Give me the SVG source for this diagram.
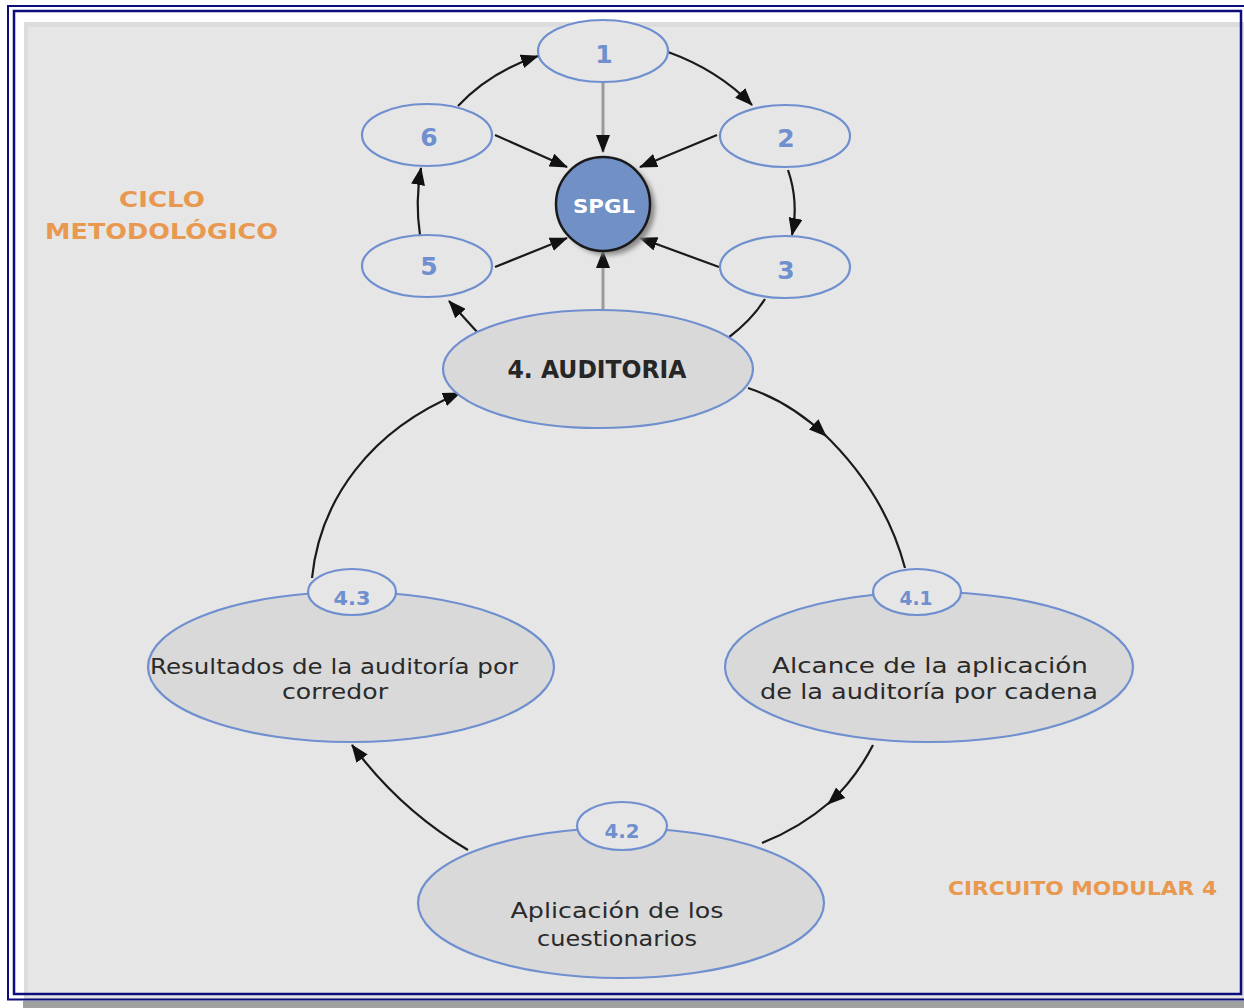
<svg xmlns="http://www.w3.org/2000/svg" width="1244" height="1008" viewBox="0 0 1244 1008">
<style>
.ov{fill:#e6e6e6;stroke:#6f8fcf;stroke-width:2.2}
.big{fill:#d9d9d9;stroke:#6f8fcf;stroke-width:2.2}
.num{font-family:"DejaVu Sans",sans-serif;font-weight:bold;fill:#6f8fcf;text-anchor:middle}
.body{font-family:"DejaVu Sans",sans-serif;fill:#2a2a2a;text-anchor:middle;font-size:21px}
.lab{font-family:"DejaVu Sans",sans-serif;font-weight:bold;fill:#e9994f;text-anchor:middle}
.c{fill:none;stroke:#1a1a1a;stroke-width:2.2}
.g{fill:none;stroke:#9a9a9a;stroke-width:3}
.navy{fill:none;stroke:#0c0c7c}
</style>
<defs>
<marker id="ah" viewBox="0 0 18 14" refX="17" refY="7" markerWidth="18" markerHeight="14" markerUnits="userSpaceOnUse" orient="auto">
<path d="M0,0 L18,7 L0,14 z" fill="#111"/>
</marker>
<filter id="sh" x="-30%" y="-30%" width="160%" height="160%"><feGaussianBlur stdDeviation="2.5"/></filter>
</defs>
<rect x="0" y="0" width="1244" height="1008" fill="#ffffff"/>
<rect x="24" y="22" width="1220" height="980" fill="#dcdcdc"/>
<rect x="28" y="27" width="1214" height="970" fill="#e6e6e6"/>
<rect x="23" y="1001" width="1221" height="7" fill="#a0a0a0"/>
<path class="navy" stroke-width="2" d="M1244,6 H8 V999.5 H1244"/>
<rect class="navy" stroke-width="2.5" x="14" y="11" width="1227" height="983"/>

<g id="connectors">
<path class="c" d="M668,52 Q718,70 752,105" marker-end="url(#ah)"/>
<path class="c" d="M788,170 Q799,202 792,235" marker-end="url(#ah)"/>
<path class="c" d="M765,299 Q752,320 728,338"/>
<path class="c" d="M478,333 L449,301" marker-end="url(#ah)"/>
<path class="c" d="M420,235 Q415,202 421,168" marker-end="url(#ah)"/>
<path class="c" d="M458,106 Q490,72 538,56" marker-end="url(#ah)"/>
<path class="c" d="M495,135 L567,167" marker-end="url(#ah)"/>
<path class="c" d="M717,135 L640,167" marker-end="url(#ah)"/>
<path class="c" d="M495,267 L567,238" marker-end="url(#ah)"/>
<path class="c" d="M719,267 L640,238" marker-end="url(#ah)"/>
<path class="g" d="M603,82 V152" marker-end="url(#ah)"/>
<path class="g" d="M603,311 V251" marker-end="url(#ah)"/>
<path class="c" d="M748,388 Q790,402 826,436" marker-end="url(#ah)"/>
<path class="c" d="M822,432 Q885,492 905,568"/>
<path class="c" d="M873,745 Q855,780 828,804" marker-end="url(#ah)"/>
<path class="c" d="M830,802 Q800,828 762,843"/>
<path class="c" d="M468,850 Q400,810 352,745" marker-end="url(#ah)"/>
<path class="c" d="M312,578 C320,500 370,430 460,393" marker-end="url(#ah)"/>
</g>

<g id="n1"><ellipse class="ov" cx="603" cy="51" rx="65" ry="31"/><text class="num" x="604" y="63" font-size="25">1</text></g>
<g id="n2"><ellipse class="ov" cx="785" cy="136" rx="65" ry="31"/><text class="num" x="786" y="147" font-size="25">2</text></g>
<g id="n3"><ellipse class="ov" cx="785" cy="267" rx="65" ry="31"/><text class="num" x="786" y="279" font-size="25">3</text></g>
<g id="n5"><ellipse class="ov" cx="427" cy="266" rx="65" ry="31"/><text class="num" x="429" y="275" font-size="25">5</text></g>
<g id="n6"><ellipse class="ov" cx="427" cy="135" rx="65" ry="31"/><text class="num" x="429" y="146" font-size="25">6</text></g>
<g id="spgl">
<circle cx="608" cy="208" r="47" fill="#888" filter="url(#sh)"/>
<circle cx="603" cy="204" r="47" fill="#7090c6" stroke="#1a1a1a" stroke-width="2.5"/>
<text x="604" y="213" font-family="DejaVu Sans,sans-serif" font-weight="bold" font-size="20" fill="#ffffff" text-anchor="middle" textLength="62" lengthAdjust="spacingAndGlyphs">SPGL</text>
</g>
<g id="n4"><ellipse class="big" cx="598" cy="369" rx="155" ry="59"/><text x="597" y="378" font-family="DejaVu Sans,sans-serif" font-weight="bold" font-size="25" fill="#262626" text-anchor="middle" textLength="179" lengthAdjust="spacingAndGlyphs">4. AUDITORIA</text></g>

<g id="n41">
<ellipse class="big" cx="929" cy="667" rx="204" ry="75"/>
<ellipse class="ov" cx="917" cy="592" rx="44" ry="23"/>
<text class="num" x="916" y="605" font-size="19" textLength="33" lengthAdjust="spacingAndGlyphs">4.1</text>
<text class="body" x="930" y="673" textLength="316" lengthAdjust="spacingAndGlyphs">Alcance de la aplicación</text>
<text class="body" x="929" y="699" textLength="338" lengthAdjust="spacingAndGlyphs">de la auditoría por cadena</text>
</g>
<g id="n42">
<ellipse class="big" cx="621" cy="903" rx="203" ry="75"/>
<ellipse class="ov" cx="622" cy="826" rx="45" ry="24"/>
<text class="num" x="622" y="838" font-size="19" textLength="35" lengthAdjust="spacingAndGlyphs">4.2</text>
<text class="body" x="617" y="918" textLength="213" lengthAdjust="spacingAndGlyphs">Aplicación de los</text>
<text class="body" x="617" y="946" textLength="160" lengthAdjust="spacingAndGlyphs">cuestionarios</text>
</g>
<g id="n43">
<ellipse class="big" cx="351" cy="667" rx="203" ry="75"/>
<ellipse class="ov" cx="352" cy="592" rx="44" ry="23"/>
<text class="num" x="352" y="605" font-size="19" textLength="37" lengthAdjust="spacingAndGlyphs">4.3</text>
<text class="body" x="334" y="674" textLength="368" lengthAdjust="spacingAndGlyphs">Resultados de la auditoría por</text>
<text class="body" x="335" y="699" textLength="106" lengthAdjust="spacingAndGlyphs">corredor</text>
</g>

<g id="labels">
<text class="lab" x="162" y="207" font-size="22" textLength="86" lengthAdjust="spacingAndGlyphs">CICLO</text>
<text class="lab" x="161.5" y="239" font-size="22" textLength="233" lengthAdjust="spacingAndGlyphs">METODOLÓGICO</text>
<text class="lab" x="1082.5" y="895" font-size="19" textLength="269" lengthAdjust="spacingAndGlyphs">CIRCUITO MODULAR 4</text>
</g>
</svg>
